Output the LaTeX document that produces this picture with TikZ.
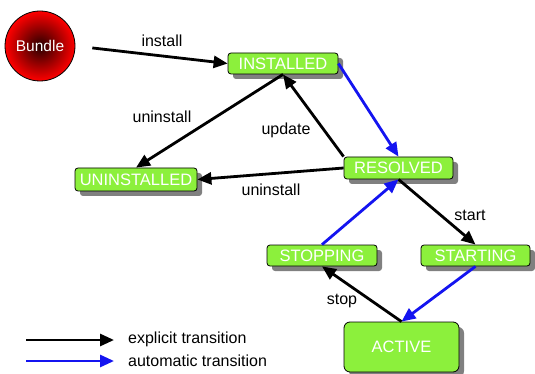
\documentclass[tikz,border=0pt]{standalone}
\usepackage{fontspec}
\setmainfont{Liberation Sans}
\usetikzlibrary{arrows.meta,shadows}
\definecolor{stategreen}{RGB}{140,240,60}
\definecolor{autoblue}{RGB}{20,20,240}
\definecolor{shadowgray}{RGB}{128,128,128}
\begin{document}
\begin{tikzpicture}[x=1pt,y=-1pt,
  state/.style={draw=black,line width=0.8pt,fill=stategreen,rounded corners=3pt,
    text=white,font=\fontsize{16.5}{18}\selectfont,inner sep=0pt,
    drop shadow={shadow xshift=5pt,shadow yshift=-5pt,fill=shadowgray,opacity=1}},
  explicit/.style={line width=2.8pt,draw=black,-{Triangle[length=14pt,width=12pt]}},
  automatic/.style={line width=2.8pt,draw=autoblue,-{Triangle[length=14pt,width=12pt]}},
  lbl/.style={font=\fontsize{16}{18}\selectfont,text=black,inner sep=0pt}]
\useasboundingbox (0,0) rectangle (535,374);
\fill[white] (0,0) rectangle (535,374);
% nodes
\node[circle,draw=black,line width=0.8pt,minimum size=70pt,inner sep=0pt,
  inner color=black!85!red,outer color=red,text=white,
  font=\fontsize{15.5}{17}\selectfont] (bundle) at (40,46) {Bundle};
\node[state,minimum width=110pt,minimum height=21pt] (installed) at (283,63.5) {INSTALLED};
\node[state,minimum width=109pt,minimum height=22pt] (resolved) at (398.5,168) {RESOLVED};
\node[state,minimum width=122pt,minimum height=23pt] (uninstalled) at (136,179.5) {UNINSTALLED};
\node[state,minimum width=110pt,minimum height=21pt] (stopping) at (322,255.5) {STOPPING};
\node[state,minimum width=109pt,minimum height=21pt] (starting) at (475.5,255.5) {STARTING};
\node[state,minimum width=115pt,minimum height=50pt,rounded corners=6pt] (active) at (401.5,347) {ACTIVE};
% edges
\draw[explicit,shorten <=17pt] (bundle.east) -- (installed.west);
\draw[automatic] (installed.east) -- (resolved.north);
\draw[explicit] (resolved.north west) -- (installed.south);
\draw[explicit] (installed.south) -- (uninstalled.north);
\draw[explicit] (resolved.west) -- (uninstalled.east);
\draw[explicit] (resolved.south) -- (starting.north);
\draw[automatic] (starting.south) -- (active.north);
\draw[explicit] (active.north) -- (stopping.south);
\draw[automatic] (stopping.north) -- (resolved.south);
% labels
\node[lbl] (linstall) at (162,41) {install};
\node[lbl] (luninst1) at (162,117) {uninstall};
\node[lbl] (lupdate) at (286,130) {update};
\node[lbl] (luninst2) at (271,190) {uninstall};
\node[lbl] (lstart) at (470,215) {start};
\node[lbl] (lstop) at (342,301) {stop};
% legend
\coordinate (e1) at (26,340);
\coordinate (e2) at (114,340);
\coordinate (a1) at (26,361);
\coordinate (a2) at (114,361);
\draw[explicit] (e1) -- (e2);
\draw[automatic] (a1) -- (a2);
\node[lbl,anchor=west] (lexp) at (128,339) {explicit transition};
\node[lbl,anchor=west] (laut) at (128,361) {automatic transition};
\end{tikzpicture}
\end{document}
